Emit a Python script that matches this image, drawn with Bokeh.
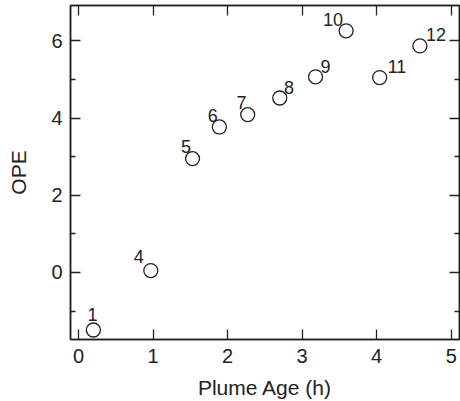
from bokeh.plotting import figure
from bokeh.models import ColumnDataSource, LinearAxis, Range1d, FixedTicker
from bokeh.embed import file_html
from bokeh.resources import INLINE
from bokeh.core.properties import value

# ---- data ----
plume_age = [0.20, 0.97, 1.53, 1.89, 2.27, 2.70, 3.18, 3.59, 4.04, 4.58]
ope = [-1.49, 0.05, 2.95, 3.77, 4.09, 4.52, 5.07, 6.26, 5.05, 5.87]
point_ids = ["1", "4", "5", "6", "7", "8", "9", "10", "11", "12"]
x_ticks = [0, 1, 2, 3, 4, 5]
y_ticks = [0, 2, 4, 6]
y_minor = [-1, 1, 3, 5]

# label styling (screen offsets, alignment)
lab_align = ["center", "right", "right", "right", "right", "left", "left", "right", "left", "left"]
lab_dx = [-1, -7, -1.5, -1.5, -1.3, 4.3, 5, -3, 8, 6]
lab_dy = [-16, -14, -12, -11.5, -12.3, -10.7, -10.7, -11.4, -10.7, -11]

FONT = "Liberation Sans"
INK = "#222222"

p = figure(width=460, height=401, output_backend="svg", toolbar_location=None,
           x_range=Range1d(-0.107, 5.111), y_range=Range1d(-1.736, 6.917),
           min_border_left=70, min_border_right=1, min_border_top=5, min_border_bottom=62,
           x_axis_location=None, y_axis_location=None)
p.grid.visible = False
p.outline_line_color = INK
p.outline_line_width = 1.5
p.background_fill_color = "white"
p.border_fill_color = "white"

def style_axis(ax, show_labels, xdir):
    ax.axis_line_color = INK
    ax.axis_line_width = 1.5
    ax.major_tick_line_color = INK
    ax.minor_tick_line_color = INK
    ax.major_tick_line_width = 1.3
    ax.minor_tick_line_width = 1.3
    ax.major_tick_in = 10
    ax.major_tick_out = 0
    ax.minor_tick_in = 5
    ax.minor_tick_out = 0
    if xdir:
        ax.ticker = FixedTicker(ticks=x_ticks)
        ticks = x_ticks
    else:
        ax.ticker = FixedTicker(ticks=y_ticks, minor_ticks=y_minor)
        ticks = y_ticks
    ax.major_label_text_font = FONT
    ax.major_label_text_font_size = "20px"
    ax.major_label_text_color = INK
    ax.axis_label_text_font = FONT
    ax.axis_label_text_font_size = "21px"
    ax.axis_label_text_font_style = "normal"
    ax.axis_label_text_color = INK
    if not show_labels:
        ax.major_label_overrides = {t: "" for t in ticks}
        ax.major_label_standoff = 0

bottom = LinearAxis(axis_label="Plume Age (h)")
style_axis(bottom, True, True)
bottom.major_label_standoff = 9
bottom.axis_label_standoff = 10
p.add_layout(bottom, "below")

left = LinearAxis(axis_label="OPE")
style_axis(left, True, False)
left.major_label_standoff = 8
left.axis_label_standoff = 18
p.add_layout(left, "left")

top = LinearAxis()
style_axis(top, False, True)
p.add_layout(top, "above")

right = LinearAxis()
style_axis(right, False, False)
p.add_layout(right, "right")

src = ColumnDataSource(dict(x=plume_age, y=ope, t=point_ids, align=lab_align, dx=lab_dx, dy=lab_dy))
p.scatter("x", "y", source=src, size=14, marker="circle", fill_color=None,
          line_color=INK, line_width=1.3)
p.text("x", "y", text="t", source=src, text_align="align", x_offset="dx", y_offset="dy",
       text_baseline="alphabetic", text_font=value(FONT), text_font_size="18px", text_color=INK)

open("out.html", "w").write(file_html(p, INLINE))
